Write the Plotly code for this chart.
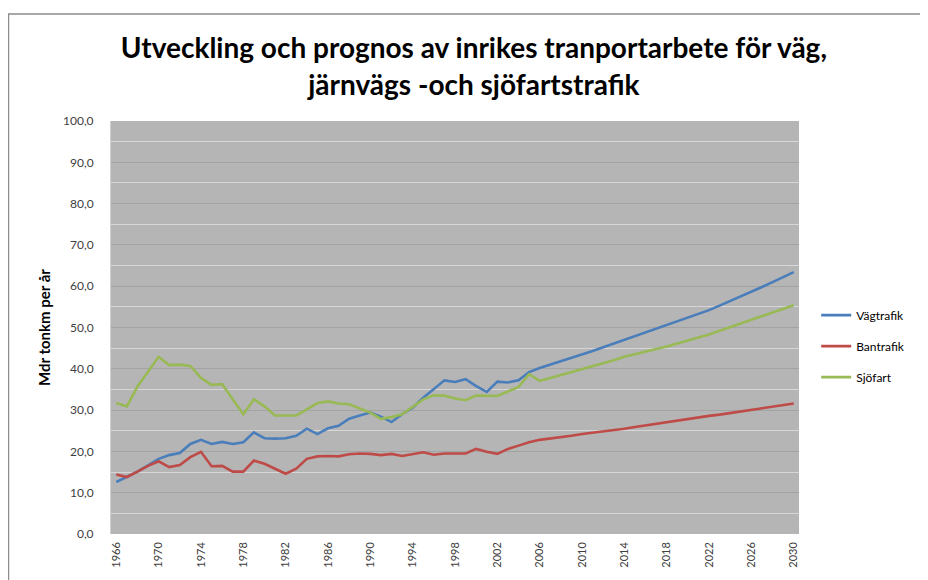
import plotly.graph_objects as go

years = list(range(1966, 2031))

vagtrafik = [12.6, 13.8, 15.1, 16.6, 18.2, 19.1, 19.6, 21.8, 22.8, 21.8,
             22.3, 21.8, 22.2, 24.6, 23.2, 23.1, 23.2, 23.8, 25.5, 24.2,
             25.6, 26.2, 27.9, 28.7, 29.4, 28.4, 27.1, 29.0, 30.6, 33.0,
             35.1, 37.2, 36.8, 37.5, 35.8, 34.4, 36.9, 36.7, 37.2, 39.2,
             40.2, 41.0, 41.8, 42.6, 43.4, 44.3, 45.2, 46.1, 47.0, 47.9,
             48.8, 49.7, 50.6, 51.5, 52.4, 53.3, 54.2, 55.3, 56.4, 57.5,
             58.6, 59.8, 61.0, 62.2, 63.4]

bantrafik = [14.4, 13.8, 15.1, 16.5, 17.6, 16.2, 16.7, 18.6, 19.9, 16.4,
             16.5, 15.1, 15.1, 17.8, 17.0, 15.8, 14.6, 15.8, 18.2, 18.8,
             18.9, 18.8, 19.3, 19.5, 19.4, 19.1, 19.4, 18.9, 19.3, 19.8,
             19.2, 19.5, 19.5, 19.5, 20.6, 19.9, 19.4, 20.6, 21.4, 22.2,
             22.8, 23.1, 23.4, 23.8, 24.2, 24.5, 24.8, 25.2, 25.5, 25.9,
             26.3, 26.6, 27.0, 27.4, 27.8, 28.2, 28.6, 28.9, 29.3, 29.6,
             30.0, 30.4, 30.8, 31.2, 31.6]

sjofart = [31.7, 30.9, 35.7, 39.3, 42.9, 40.9, 41.0, 40.7, 37.8, 36.1,
           36.3, 32.6, 29.0, 32.6, 30.9, 28.7, 28.7, 28.7, 30.2, 31.7,
           32.1, 31.6, 31.4, 30.4, 29.4, 27.9, 28.3, 29.0, 30.8, 32.6,
           33.6, 33.5, 32.8, 32.4, 33.5, 33.4, 33.4, 34.5, 35.6, 38.7,
           37.1, 37.8, 38.5, 39.3, 40.0, 40.7, 41.4, 42.1, 42.9, 43.5,
           44.1, 44.8, 45.4, 46.1, 46.8, 47.5, 48.3, 49.2, 50.1, 50.9,
           51.8, 52.7, 53.6, 54.5, 55.4]

x_ticks = list(range(1966, 2031, 4))
series_names = ["Vägtrafik", "Bantrafik", "Sjöfart"]
colors = ["#4a7ebb", "#be4b48", "#98b954"]

fig = go.Figure()
for i, (name, vals, col) in enumerate(zip(series_names, [vagtrafik, bantrafik, sjofart], colors)):
    fig.add_trace(go.Scatter(
        x=years, y=vals, mode="lines", name=name,
        line=dict(color=col, width=2.6),
        legendgroup=f"g{i}",
    ))

fig.update_layout(
    width=928, height=580,
    paper_bgcolor="white",
    plot_bgcolor="#b5b5b5",
    separators=", ",
    margin=dict(l=103, r=137, t=113, b=54),
    font=dict(family="Lato, Open Sans, sans-serif", color="#404040"),
    title=dict(
        text="Utveckling och prognos av inrikes tranportarbete för väg,<br>järnvägs -och sjöfartstrafik",
        x=0.502, xanchor="center", y=0.913, yanchor="top",
        font=dict(family="Lato, sans-serif", size=28, color="#000000", weight="bold"),
    ),
    showlegend=True,
    legend=dict(
        x=1.025, xanchor="left", y=0.455, yanchor="middle",
        font=dict(size=12, color="#000000"),
        tracegroupgap=12,
        bgcolor="rgba(0,0,0,0)",
        itemwidth=30,
    ),
    shapes=[dict(type="rect", xref="paper", yref="paper",
                 x0=-0.1490, x1=1.6, y0=-0.5, y1=1.259,
                 line=dict(color="#8c8c8c", width=1.5), layer="below")],
)

fig.update_xaxes(
    range=[1965.5, 2030.5],
    tickmode="array", tickvals=x_ticks, ticktext=[str(t) for t in x_ticks],
    tickangle=-90, tickfont=dict(size=11, color="#404040"),
    showgrid=False, zeroline=False, showline=False, ticks="",
    ticklabelstandoff=5,
)
fig.update_yaxes(
    range=[0, 100], dtick=10, tickformat=".1f",
    tickfont=dict(size=12, color="#404040"),
    showgrid=True, gridcolor="#a3a3a3", gridwidth=1,
    minor=dict(dtick=5, showgrid=True, gridcolor="#d6d6d6", gridwidth=1),
    zeroline=False, showline=True, linecolor="#d0d0d0", linewidth=1,
    ticks="", ticklabelstandoff=14,
    title=dict(text="Mdr tonkm per år", standoff=8,
               font=dict(size=15, color="#000000", weight="bold")),
)

fig.write_html("out.html")
